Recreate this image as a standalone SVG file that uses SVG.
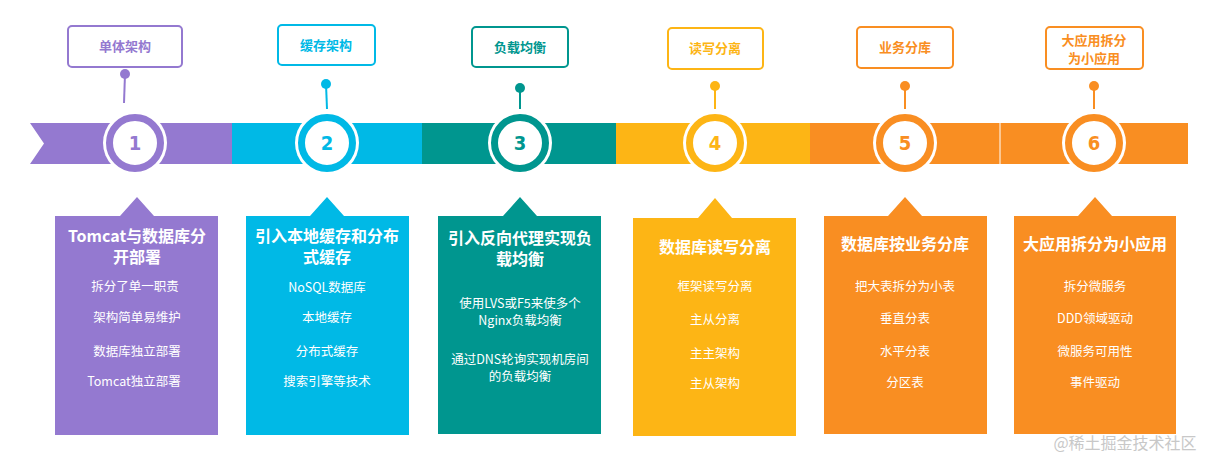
<svg xmlns="http://www.w3.org/2000/svg" width="1212" height="460" viewBox="0 0 1212 460">
<style>
text{font-family:"Microsoft YaHei","Noto Sans CJK SC",sans-serif;text-anchor:middle}
.lb{font-size:13px;font-weight:bold}
.t{font-size:16px;font-weight:bold;fill:#fff}
.i{font-size:12.5px;fill:#fff}
.num{font-family:"DejaVu Sans Condensed","DejaVu Sans",sans-serif;font-size:20px;font-weight:bold}
.box{fill:#fff;stroke-width:2}
</style>
<rect width="1212" height="460" fill="#fff"/>
<g id="band">
<polygon points="30,123 232,123 232,164 30,164 44,143.5" fill="#9479D0"/>
<rect x="232" y="123" width="190" height="41" fill="#00B9E6"/>
<rect x="422" y="123" width="194" height="41" fill="#00968F"/>
<rect x="616" y="123" width="194" height="41" fill="#FDB515"/>
<rect x="810" y="123" width="190" height="41" fill="#F98E22"/>
<rect x="1000" y="123" width="188" height="41" fill="#F98E22"/>
<line x1="1000" y1="123" x2="1000" y2="164" stroke="#fff" stroke-width="1"/>
</g>
<g id="connectors">
<line x1="125" y1="74" x2="124" y2="103" stroke="#9479D0" stroke-width="2"/><circle cx="125" cy="74" r="5" fill="#9479D0"/>
<line x1="326" y1="84" x2="327" y2="109" stroke="#00B9E6" stroke-width="2"/><circle cx="326" cy="84" r="5" fill="#00B9E6"/>
<line x1="520" y1="88" x2="520" y2="109" stroke="#00968F" stroke-width="2"/><circle cx="520" cy="88" r="5" fill="#00968F"/>
<line x1="715" y1="86" x2="715" y2="109" stroke="#FDB515" stroke-width="2"/><circle cx="715" cy="86" r="5" fill="#FDB515"/>
<line x1="905" y1="86" x2="905" y2="109" stroke="#F98E22" stroke-width="2"/><circle cx="905" cy="86" r="5" fill="#F98E22"/>
<line x1="1094" y1="86" x2="1094" y2="109" stroke="#F98E22" stroke-width="2"/><circle cx="1094" cy="86" r="5" fill="#F98E22"/>
</g>
<g id="n1">
<rect class="box" x="68" y="26" width="114" height="41" rx="4" stroke="#9479D0"/>
<text class="lb" x="125" y="51" fill="#9479D0">单体架构</text>
<circle cx="135" cy="143" r="32" fill="#fff"/><circle cx="135" cy="143" r="25.5" fill="#fff" stroke="#9479D0" stroke-width="7"/>
<text class="num" x="135" y="150" fill="#9479D0">1</text>
<polygon points="55,216 120,216 137,197 154,216 218,216 218,435 55,435" fill="#9479D0"/>
<text class="t" x="137" y="242">Tomcat与数据库分</text><text class="t" x="137" y="263">开部署</text>
<text class="i" x="135" y="291">拆分了单一职责</text><text class="i" x="137" y="322">架构简单易维护</text>
<text class="i" x="137" y="356">数据库独立部署</text><text class="i" x="134" y="386">Tomcat独立部署</text>
</g>
<g id="n2">
<rect class="box" x="278" y="25" width="97" height="40" rx="4" stroke="#00B9E6"/>
<text class="lb" x="326" y="50" fill="#00B9E6">缓存架构</text>
<circle cx="327" cy="143" r="32" fill="#fff"/><circle cx="327" cy="143" r="25.5" fill="#fff" stroke="#00B9E6" stroke-width="7"/>
<text class="num" x="327" y="150" fill="#00B9E6">2</text>
<polygon points="246,216 310,216 327,197 344,216 409,216 409,435 246,435" fill="#00B9E6"/>
<text class="t" x="327" y="242">引入本地缓存和分布</text><text class="t" x="327" y="263">式缓存</text>
<text class="i" x="327" y="292">NoSQL数据库</text><text class="i" x="327" y="322">本地缓存</text>
<text class="i" x="327" y="356">分布式缓存</text><text class="i" x="327" y="386">搜索引擎等技术</text>
</g>
<g id="n3">
<rect class="box" x="472" y="27" width="96" height="40" rx="4" stroke="#00968F"/>
<text class="lb" x="520" y="52" fill="#00968F">负载均衡</text>
<circle cx="520" cy="143" r="32" fill="#fff"/><circle cx="520" cy="143" r="25.5" fill="#fff" stroke="#00968F" stroke-width="7"/>
<text class="num" x="520" y="150" fill="#00968F">3</text>
<polygon points="438,216 503,216 520,197 537,216 601,216 601,434 438,434" fill="#00968F"/>
<text class="t" x="520" y="244">引入反向代理实现负</text><text class="t" x="520" y="265">载均衡</text>
<text class="i" x="520" y="308">使用LVS或F5来使多个</text><text class="i" x="520" y="325">Nginx负载均衡</text>
<text class="i" x="520" y="364">通过DNS轮询实现机房间</text><text class="i" x="520" y="381">的负载均衡</text>
</g>
<g id="n4">
<rect class="box" x="668" y="28" width="95" height="41" rx="4" stroke="#FDB515"/>
<text class="lb" x="715" y="53" fill="#FDB515">读写分离</text>
<circle cx="715" cy="143" r="32" fill="#fff"/><circle cx="715" cy="143" r="25.5" fill="#fff" stroke="#FDB515" stroke-width="7"/>
<text class="num" x="715" y="150" fill="#FDB515">4</text>
<polygon points="633,218 698,218 715,198 732,218 796,218 796,436 633,436" fill="#FDB515"/>
<text class="t" x="715" y="253">数据库读写分离</text>
<text class="i" x="715" y="291">框架读写分离</text><text class="i" x="715" y="324">主从分离</text>
<text class="i" x="715" y="358">主主架构</text><text class="i" x="715" y="388">主从架构</text>
</g>
<g id="n5">
<rect class="box" x="857" y="27" width="96" height="41" rx="4" stroke="#F98E22"/>
<text class="lb" x="905" y="52" fill="#F98E22">业务分库</text>
<circle cx="905" cy="143" r="32" fill="#fff"/><circle cx="905" cy="143" r="25.5" fill="#fff" stroke="#F98E22" stroke-width="7"/>
<text class="num" x="905" y="150" fill="#F98E22">5</text>
<polygon points="824,216 888,216 905,197 922,216 987,216 987,434 824,434" fill="#F98E22"/>
<text class="t" x="905" y="250">数据库按业务分库</text>
<text class="i" x="905" y="291">把大表拆分为小表</text><text class="i" x="905" y="323">垂直分表</text>
<text class="i" x="905" y="356">水平分表</text><text class="i" x="905" y="387">分区表</text>
</g>
<g id="n6">
<rect class="box" x="1046" y="27" width="97" height="42" rx="4" stroke="#F98E22"/>
<text class="lb" x="1094" y="45" fill="#F98E22">大应用拆分</text><text class="lb" x="1094" y="63" fill="#F98E22">为小应用</text>
<circle cx="1094" cy="143" r="32" fill="#fff"/><circle cx="1094" cy="143" r="25.5" fill="#fff" stroke="#F98E22" stroke-width="7"/>
<text class="num" x="1094" y="150" fill="#F98E22">6</text>
<polygon points="1014,216 1078,216 1095,197 1112,216 1176,216 1176,434 1014,434" fill="#F98E22"/>
<text class="t" x="1095" y="250">大应用拆分为小应用</text>
<text class="i" x="1095" y="291">拆分微服务</text><text class="i" x="1095" y="323">DDD领域驱动</text>
<text class="i" x="1095" y="356">微服务可用性</text><text class="i" x="1095" y="387">事件驱动</text>
</g>
<text x="1125" y="449" font-size="16" fill="#c8c8c8">@稀土掘金技术社区</text>
</svg>
